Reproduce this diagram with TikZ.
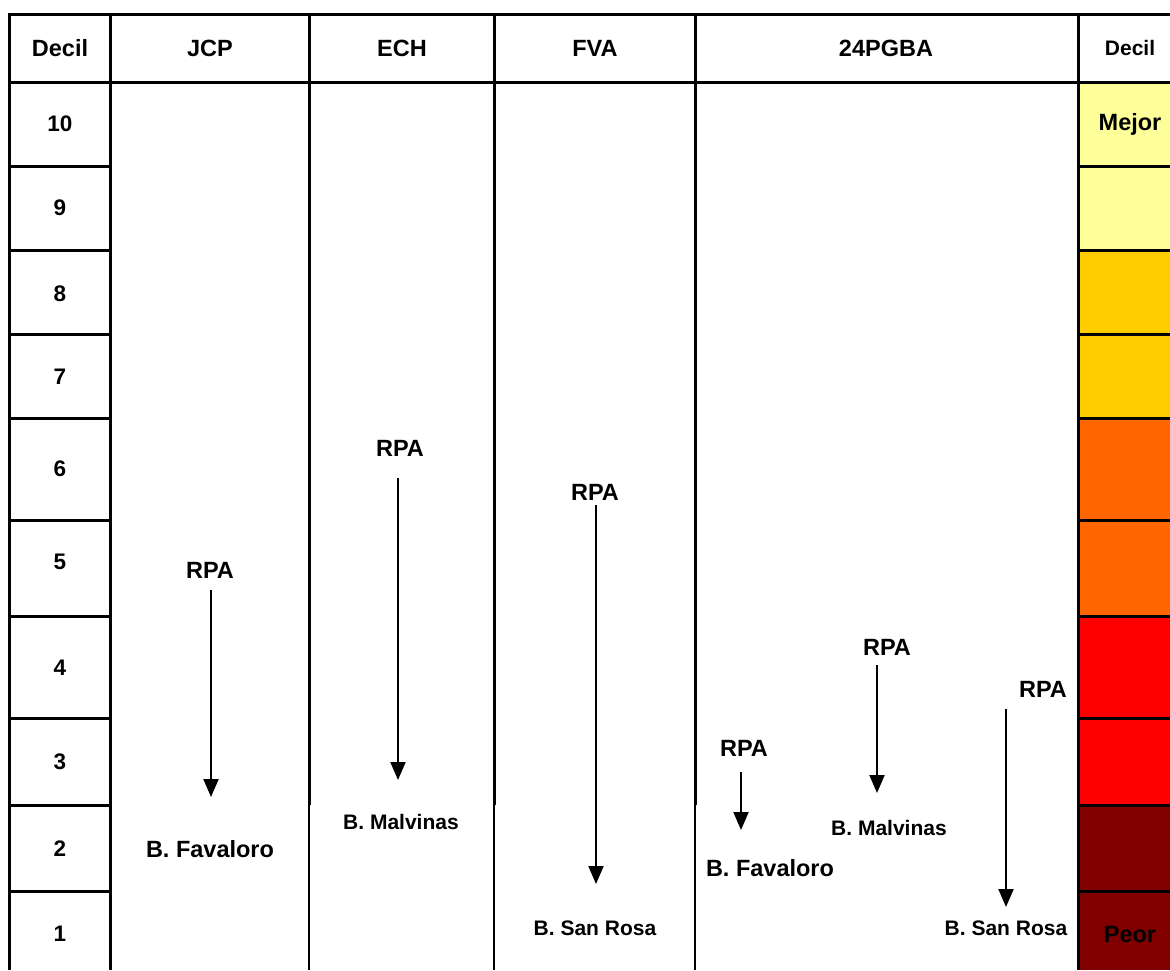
\documentclass[tikz,border=0pt]{standalone}
\usepackage{fontspec}
\setmainfont{Liberation Sans}
\usetikzlibrary{arrows.meta}
\definecolor{amarillo}{HTML}{FFFF99}
\definecolor{oro}{HTML}{FFCC00}
\definecolor{naranja}{HTML}{FF6600}
\definecolor{rojo}{HTML}{FF0000}
\definecolor{granate}{HTML}{800000}
\tikzset{
  grande/.style={font=\fontsize{23.5}{26}\selectfont\bfseries, inner sep=0pt},
  chica/.style={font=\fontsize{21}{24}\selectfont\bfseries, inner sep=0pt},
  numero/.style={font=\fontsize{22.5}{25}\selectfont\bfseries, inner sep=0pt},
  flecha/.style={line width=2pt, -{Triangle[width=15pt,length=18pt]}},
  gruesa/.style={line width=3pt},
  fina/.style={line width=1.5pt}
}
\begin{document}
\begin{tikzpicture}[x=1pt,y=-1pt]
      \useasboundingbox (0,0) rectangle (1170,970);
      \fill[amarillo] (1078,82) rectangle (1170,250);
      \fill[oro] (1078,250) rectangle (1170,418);
      \fill[naranja] (1078,418) rectangle (1170,616);
      \fill[rojo] (1078,616) rectangle (1170,805);
      \fill[granate] (1078,805) rectangle (1170,970);
      \begin{scope}[gruesa]
        \draw (9,970) -- (9,14) -- (1170,14);
        \draw (9,82) -- (1170,82);
        \draw (110,14) -- (110,970);
        \draw (1078,14) -- (1078,970);
        \draw (309,14) -- (309,805);
        \draw (494,14) -- (494,805);
        \draw (695,14) -- (695,805);
        \draw (9,166) -- (110,166);
        \draw (9,250) -- (110,250);
        \draw (9,334) -- (110,334);
        \draw (9,418) -- (110,418);
        \draw (9,520) -- (110,520);
        \draw (9,616) -- (110,616);
        \draw (9,718) -- (110,718);
        \draw (9,805) -- (110,805);
        \draw (9,891) -- (110,891);
        \draw (1078,166) -- (1170,166);
        \draw (1078,250) -- (1170,250);
        \draw (1078,334) -- (1170,334);
        \draw (1078,418) -- (1170,418);
        \draw (1078,520) -- (1170,520);
        \draw (1078,616) -- (1170,616);
        \draw (1078,718) -- (1170,718);
        \draw (1078,805) -- (1170,805);
        \draw (1078,891) -- (1170,891);
      \end{scope}
      \begin{scope}[fina]
        \draw (309,805) -- (309,970);
        \draw (494,805) -- (494,970);
        \draw (695,805) -- (695,970);
      \end{scope}
      \draw
        (60,48) node[grande] (hDecil){Decil}
        (210,48) node[grande] (hJCP){JCP}
        (402,48) node[grande] (hECH){ECH}
        (595,48) node[grande] (hFVA){FVA}
        (886,48) node[grande] (hPGBA){24PGBA}
        (1130,48) node[chica] (hEscala){Decil};
      \draw
        (60,124) node[numero] (d10){10}
        (60,208) node[numero] (d9){9}
        (60,294) node[numero] (d8){8}
        (60,377) node[numero] (d7){7}
        (60,469) node[numero] (d6){6}
        (60,562) node[numero] (d5){5}
        (60,668) node[numero] (d4){4}
        (60,762) node[numero] (d3){3}
        (60,849) node[numero] (d2){2}
        (60,934) node[numero] (d1){1};
      \draw
        (1130,124) node[grande] (mejor){Mejor}
        (1130,935) node[grande] (peor){Peor};
      \draw
        (210,570) node[grande] (rpaJCP){RPA}
        (210,849) node[grande] (favJCP){B. Favaloro}
        (400,448) node[grande] (rpaECH){RPA}
        (401,822) node[chica] (malECH){B. Malvinas}
        (595,492) node[grande] (rpaFVA){RPA}
        (595,928) node[chica] (rosFVA){B. San Rosa}
        (744,748) node[grande] (rpaFav){RPA}
        (770,868) node[grande] (favPGBA){B. Favaloro}
        (887,647) node[grande] (rpaMal){RPA}
        (889,828) node[chica] (malPGBA){B. Malvinas}
        (1043,689) node[grande] (rpaRos){RPA}
        (1006,928) node[chica] (rosPGBA){B. San Rosa};
      \coordinate (finJCP) at (211,797);
      \coordinate (finECH) at (398,780);
      \coordinate (finFVA) at (596,884);
      \coordinate (finFav) at (741,830);
      \coordinate (finMal) at (877,793);
      \coordinate (finRos) at (1006,907);
      \begin{scope}[flecha]
        \draw[shorten <=12pt] (rpaJCP.south -| finJCP) to (finJCP);
        \draw[shorten <=22pt] (rpaECH.south -| finECH) to (finECH);
        \draw[shorten <=5pt] (rpaFVA.south -| finFVA) to (finFVA);
        \draw[shorten <=16pt] (rpaFav.south -| finFav) to (finFav);
        \draw[shorten <=10pt] (rpaMal.south -| finMal) to (finMal);
        \draw[shorten <=12pt] (rpaRos.south -| finRos) to (finRos);
      \end{scope}
    \end{tikzpicture}
\end{document}
